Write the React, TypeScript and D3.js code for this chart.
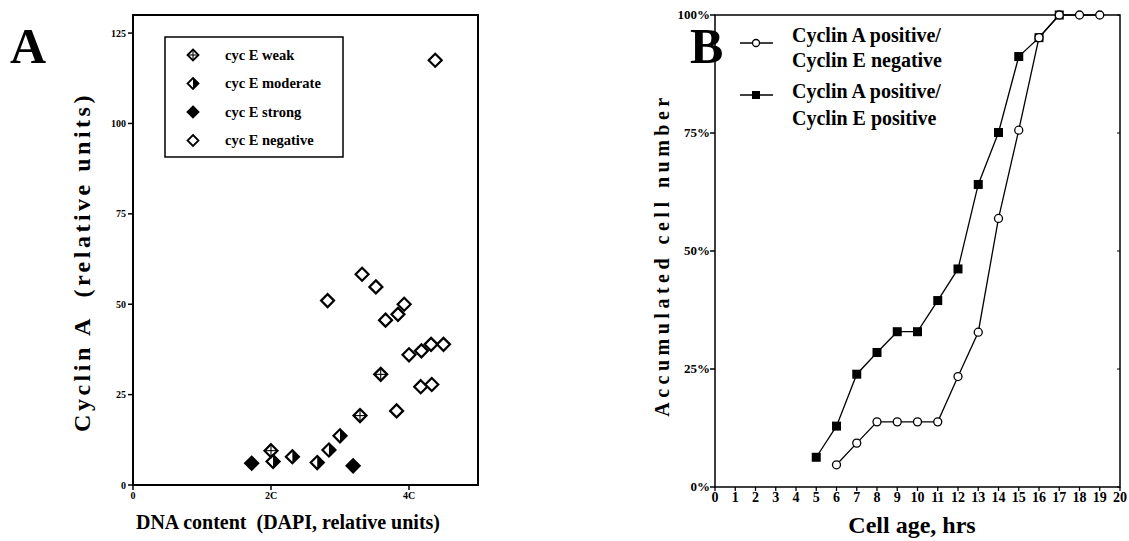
import React from 'react';
import * as d3 from 'd3';

// Panel A: cyclin A vs DNA content, one array per cyclin E class (x in C units, y relative)
const weakX = [2.0, 3.29, 3.59];
const weakY = [9.5, 19.2, 30.6];
const moderateX = [2.03, 2.31, 2.67, 2.84, 3.0];
const moderateY = [6.5, 7.8, 6.2, 9.7, 13.6];
const strongX = [1.72, 3.19];
const strongY = [6.0, 5.3];
const negativeX = [2.82, 3.32, 3.52, 3.66, 3.84, 3.93, 3.82, 4.0, 4.18, 4.32, 4.5, 4.17, 4.33, 4.38];
const negativeY = [51, 58.3, 54.8, 45.6, 47.2, 50, 20.5, 36, 37.1, 38.9, 38.9, 27.2, 27.8, 117.5];
const aYTicks = [0, 25, 50, 75, 100, 125];
const aXTicks = [0, 2, 4];
const aXTickLabels = ['0', '2C', '4C'];
const legendA = ['cyc E weak', 'cyc E moderate', 'cyc E strong', 'cyc E negative'];

// Panel B: accumulated cell number (%) vs cell age (hrs)
const negHours = [6, 7, 8, 9, 10, 11, 12, 13, 14, 15, 16, 17, 18, 19];
const negPct = [4.7, 9.3, 13.8, 13.8, 13.8, 13.8, 23.4, 32.8, 56.9, 75.6, 95.2, 100, 100, 100];
const posHours = [5, 6, 7, 8, 9, 10, 11, 12, 13, 14, 15, 16, 17];
const posPct = [6.3, 12.9, 23.9, 28.5, 32.9, 32.9, 39.5, 46.2, 64.1, 75.1, 91.2, 95.2, 100];
const bYTicks = [0, 25, 50, 75, 100];
const bXTicks = d3.range(0, 21);

const serif = '"Liberation Serif", "Times New Roman", serif';

const diamond = (r: number) => `M0,${-r}L${r},0L0,${r}L${-r},0Z`;

function Marker({ kind, x, y, r = 6.5 }: { kind: string; x: number; y: number; r?: number }) {
  const sw = r > 6 ? 2.2 : 1.8;
  return (
    <g transform={`translate(${x},${y})`}>
      {kind === 'moderate' && <path d={`M0,${-r}L${r},0L0,${r}Z`} fill="#000" />}
      <path d={diamond(r)} fill={kind === 'strong' ? '#000' : '#fff'} fillOpacity={kind === 'moderate' ? 0 : 1} stroke="#000" strokeWidth={sw} />
      {kind === 'weak' && (
        <g stroke="#000" strokeWidth={1.1}>
          <line x1={-r} y1={0} x2={r} y2={0} />
          <line x1={0} y1={-r} x2={0} y2={r} />
        </g>
      )}
    </g>
  );
}

export default function App() {
  // ---- panel A scales
  const ax = d3.scaleLinear().domain([0, 5]).range([133, 478]);
  const ay = d3.scaleLinear().domain([0, 130]).range([485, 15]);

  const groups = [
    { kind: 'weak', xs: weakX, ys: weakY },
    { kind: 'moderate', xs: moderateX, ys: moderateY },
    { kind: 'strong', xs: strongX, ys: strongY },
    { kind: 'negative', xs: negativeX, ys: negativeY },
  ];

  // ---- panel B scales
  const bx = d3.scaleLinear().domain([0, 20]).range([715, 1120]);
  const by = d3.scaleLinear().domain([0, 100]).range([487, 15]);
  const line = d3.line<[number, number]>().x(d => bx(d[0])).y(d => by(d[1]));
  const negPts = negHours.map((h, i) => [h, negPct[i]] as [number, number]);
  const posPts = posHours.map((h, i) => [h, posPct[i]] as [number, number]);

  return (
    <svg width={1129} height={541} style={{ position: 'absolute', left: 0, top: 0, display: 'block', fontFamily: serif }}>
      <rect x={0} y={0} width={1129} height={541} fill="#fff" />

      {/* ================= Panel A ================= */}
      <text x={10} y={63} fontSize={50} fontWeight="bold">A</text>
      <rect x={ax(0)} y={ay(130)} width={ax(5) - ax(0)} height={ay(0) - ay(130)} fill="none" stroke="#000" strokeWidth={2} />
      {aYTicks.map(t => (
        <g key={t}>
          <line x1={ax(0) - 5} x2={ax(0)} y1={ay(t)} y2={ay(t)} stroke="#000" strokeWidth={1.5} />
          <text x={ax(0) - 7} y={ay(t) + 3.5} fontSize={10} fontWeight="bold" textAnchor="end">{t}</text>
        </g>
      ))}
      {aXTicks.map((t, i) => (
        <g key={t}>
          <line x1={ax(t)} x2={ax(t)} y1={ay(0)} y2={ay(0) + 5} stroke="#000" strokeWidth={1.5} />
          <text x={ax(t)} y={ay(0) + 14} fontSize={10} fontWeight="bold" textAnchor="middle">{aXTickLabels[i]}</text>
        </g>
      ))}
      <text transform={`translate(90,262) rotate(-90)`} fontSize={24} fontWeight="bold" textAnchor="middle" letterSpacing={3.5} style={{ whiteSpace: 'pre' }}>
        Cyclin A  (relative units)
      </text>
      <text x={288} y={529} fontSize={20} fontWeight="bold" textAnchor="middle" style={{ whiteSpace: 'pre' }}>
        DNA content  (DAPI, relative units)
      </text>

      {groups.map(g => g.xs.map((x, i) => (
        <Marker key={g.kind + i} kind={g.kind} x={ax(x)} y={ay(g.ys[i])} />
      )))}

      <rect x={165} y={37} width={178} height={120} fill="#fff" stroke="#000" strokeWidth={1.5} />
      {legendA.map((label, i) => (
        <g key={label}>
          <Marker kind={groups[i].kind} x={193} y={55 + i * 28.5} r={5.5} />
          <text x={225} y={55 + i * 28.5 + 4.5} fontSize={14.5} fontWeight="bold">{label}</text>
        </g>
      ))}

      {/* ================= Panel B ================= */}
      <text x={690} y={63} fontSize={50} fontWeight="bold">B</text>
      <rect x={bx(0)} y={by(100)} width={bx(20) - bx(0)} height={by(0) - by(100)} fill="none" stroke="#000" strokeWidth={1.5} />
      {bYTicks.map(t => (
        <g key={t}>
          <line x1={bx(0) - 5} x2={bx(0)} y1={by(t)} y2={by(t)} stroke="#000" strokeWidth={1.5} />
          <line x1={bx(20) - 3} x2={bx(20)} y1={by(t)} y2={by(t)} stroke="#000" strokeWidth={1} />
          <text x={bx(0) - 5} y={by(t) + 4} fontSize={13} fontWeight="bold" textAnchor="end">{t}%</text>
        </g>
      ))}
      {bXTicks.map(t => (
        <g key={t}>
          <line x1={bx(t)} x2={bx(t)} y1={by(0)} y2={by(0) + 4} stroke="#000" strokeWidth={1.3} />
          <text x={bx(t)} y={by(0) + 15} fontSize={14} fontWeight="bold" textAnchor="middle">{t}</text>
        </g>
      ))}
      <text transform={`translate(669,255) rotate(-90)`} fontSize={20} fontWeight="bold" textAnchor="middle" letterSpacing={4.5}>
        Accumulated cell number
      </text>
      <text x={912} y={533} fontSize={24} fontWeight="bold" textAnchor="middle">Cell age, hrs</text>

      <path d={line(posPts) || ''} fill="none" stroke="#000" strokeWidth={1.3} />
      <path d={line(negPts) || ''} fill="none" stroke="#000" strokeWidth={1.3} />
      {posPts.map(p => (
        <rect key={'p' + p[0]} x={bx(p[0]) - 4.5} y={by(p[1]) - 4.5} width={9} height={9} fill="#000" />
      ))}
      {negPts.map(p => (
        <circle key={'n' + p[0]} cx={bx(p[0])} cy={by(p[1])} r={4} fill="#fff" stroke="#000" strokeWidth={1.3} />
      ))}

      {/* legend B */}
      <line x1={740} x2={773} y1={43} y2={43} stroke="#000" strokeWidth={1.3} />
      <circle cx={756} cy={43} r={3.5} fill="#fff" stroke="#000" strokeWidth={1.3} />
      <text x={792} y={42} fontSize={20} fontWeight="bold">Cyclin A positive/</text>
      <text x={792} y={67} fontSize={20} fontWeight="bold">Cyclin E negative</text>
      <line x1={740} x2={773} y1={95} y2={95} stroke="#000" strokeWidth={1.3} />
      <rect x={752} y={91} width={8} height={8} fill="#000" />
      <text x={792} y={98} fontSize={20} fontWeight="bold">Cyclin A positive/</text>
      <text x={792} y={125} fontSize={20} fontWeight="bold">Cyclin E positive</text>
    </svg>
  );
}
